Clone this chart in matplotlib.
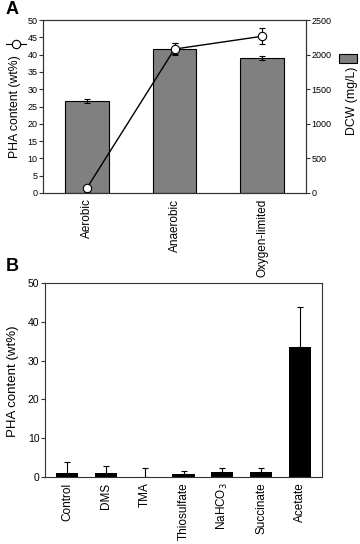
import numpy as np
import matplotlib.pyplot as plt
from matplotlib.lines import Line2D
from matplotlib.patches import Rectangle

plt.rcParams['font.family'] = ['Liberation Sans', 'DejaVu Sans']

# panel A data
conds = ['Aerobic', 'Anaerobic', 'Oxygen-limited']
dcw = [1330, 2085, 1945]
dcw_err = [25, 80, 30]
pha_a = [1.4, 41.6, 45.3]
pha_a_err = [1.0, 1.8, 2.3]

# panel B data
subs = ['Control', 'DMS', 'TMA', 'Thiosulfate', 'NaHCO$_3$', 'Succinate', 'Acetate']
pha_b = [1.1, 1.1, 0.0, 0.7, 1.2, 1.2, 33.6]
pha_b_err = [2.7, 1.8, 2.2, 0.8, 1.0, 1.0, 10.3]

W, H = 360, 544
fig = plt.figure(figsize=(W / 100, H / 100), dpi=100)


def box(l, t, r, b):
    return [l / W, 1 - b / H, (r - l) / W, (b - t) / H]


spine_col = '#333333'

# ---- panel A
ax = fig.add_axes(box(43, 20, 306, 193))
ax2 = ax.twinx()
x = np.arange(len(conds))
ax2.bar(x, dcw, 0.5, color='#808080', edgecolor='black', linewidth=0.8,
        yerr=dcw_err, error_kw=dict(ecolor='black', elinewidth=0.8, capsize=2, capthick=0.8))
ax2.set_ylim(0, 2500)
ax2.set_yticks(np.arange(0, 2501, 500))
ax.set_zorder(ax2.get_zorder() + 1)
ax.patch.set_visible(False)
ax.errorbar(x, pha_a, yerr=pha_a_err, color='black', lw=1, marker='o', ms=6,
            mfc='white', mec='black', mew=0.8, capsize=2, elinewidth=0.8, capthick=0.8)
ax.set_ylim(0, 50)
ax.set_yticks(np.arange(0, 51, 5))
ax.set_xlim(-0.5, 2.5)
ax.set_xticks(x)
ax.set_xticklabels(conds, rotation=90, fontsize=8.5)
ax.tick_params(axis='x', length=0, pad=4)
ax.tick_params(axis='y', labelsize=6.5, length=3, width=0.8, pad=1, color=spine_col)
ax2.tick_params(axis='y', labelsize=6.5, length=3, width=0.8, pad=1, color=spine_col)
for a in (ax, ax2):
    for s in a.spines.values():
        s.set_linewidth(0.8)
        s.set_color(spine_col)

fig.text(15 / W, 1 - 106.5 / H, 'PHA content (wt%)', rotation=90, fontsize=8.8,
         ha='center', va='center')
fig.text(352 / W, 1 - 101 / H, 'DCW (mg/L)', rotation=90, fontsize=8.8,
         ha='center', va='center')
# legend symbols next to the axis titles
fig.add_artist(Line2D([6 / W, 26 / W], [1 - 44 / H] * 2, color='black', lw=0.8))
fig.add_artist(Line2D([16 / W, 16 / W], [1 - 40 / H, 1 - 48 / H], color='black', lw=0.8))
fig.add_artist(Line2D([16 / W], [1 - 44 / H], marker='o', ms=6, mfc='white',
                      mec='black', mew=0.8, lw=0))
fig.add_artist(Rectangle((339 / W, 1 - 63 / H), 18 / W, 9 / H, transform=fig.transFigure,
                         facecolor='#808080', edgecolor='black', lw=0.8))
fig.text(6 / W, 1 - 10 / H, 'A', fontsize=13, fontweight='bold', ha='left', va='center')

# ---- panel B
bx = fig.add_axes(box(45, 283, 322, 477))
xb = np.arange(len(subs))
bx.bar(xb, pha_b, 0.57, color='black',
       yerr=[np.zeros(len(pha_b)), pha_b_err],
       error_kw=dict(ecolor='black', elinewidth=0.8, capsize=2, capthick=0.8))
bx.set_ylim(0, 50)
bx.set_yticks(np.arange(0, 51, 10))
bx.set_xlim(-0.57, 6.57)
bx.set_xticks(xb)
bx.set_xticklabels(subs, rotation=90, fontsize=8.5)
bx.tick_params(axis='x', length=0, pad=4)
bx.tick_params(axis='y', labelsize=7.5, length=3, width=0.8, pad=1, color=spine_col)
for s in bx.spines.values():
    s.set_linewidth(0.8)
    s.set_color(spine_col)
fig.text(13 / W, 1 - 381 / H, 'PHA content (wt%)', rotation=90, fontsize=9.5,
         ha='center', va='center')
fig.text(6 / W, 1 - 267 / H, 'B', fontsize=13, fontweight='bold', ha='left', va='center')

fig.savefig('out.png', dpi=100)
